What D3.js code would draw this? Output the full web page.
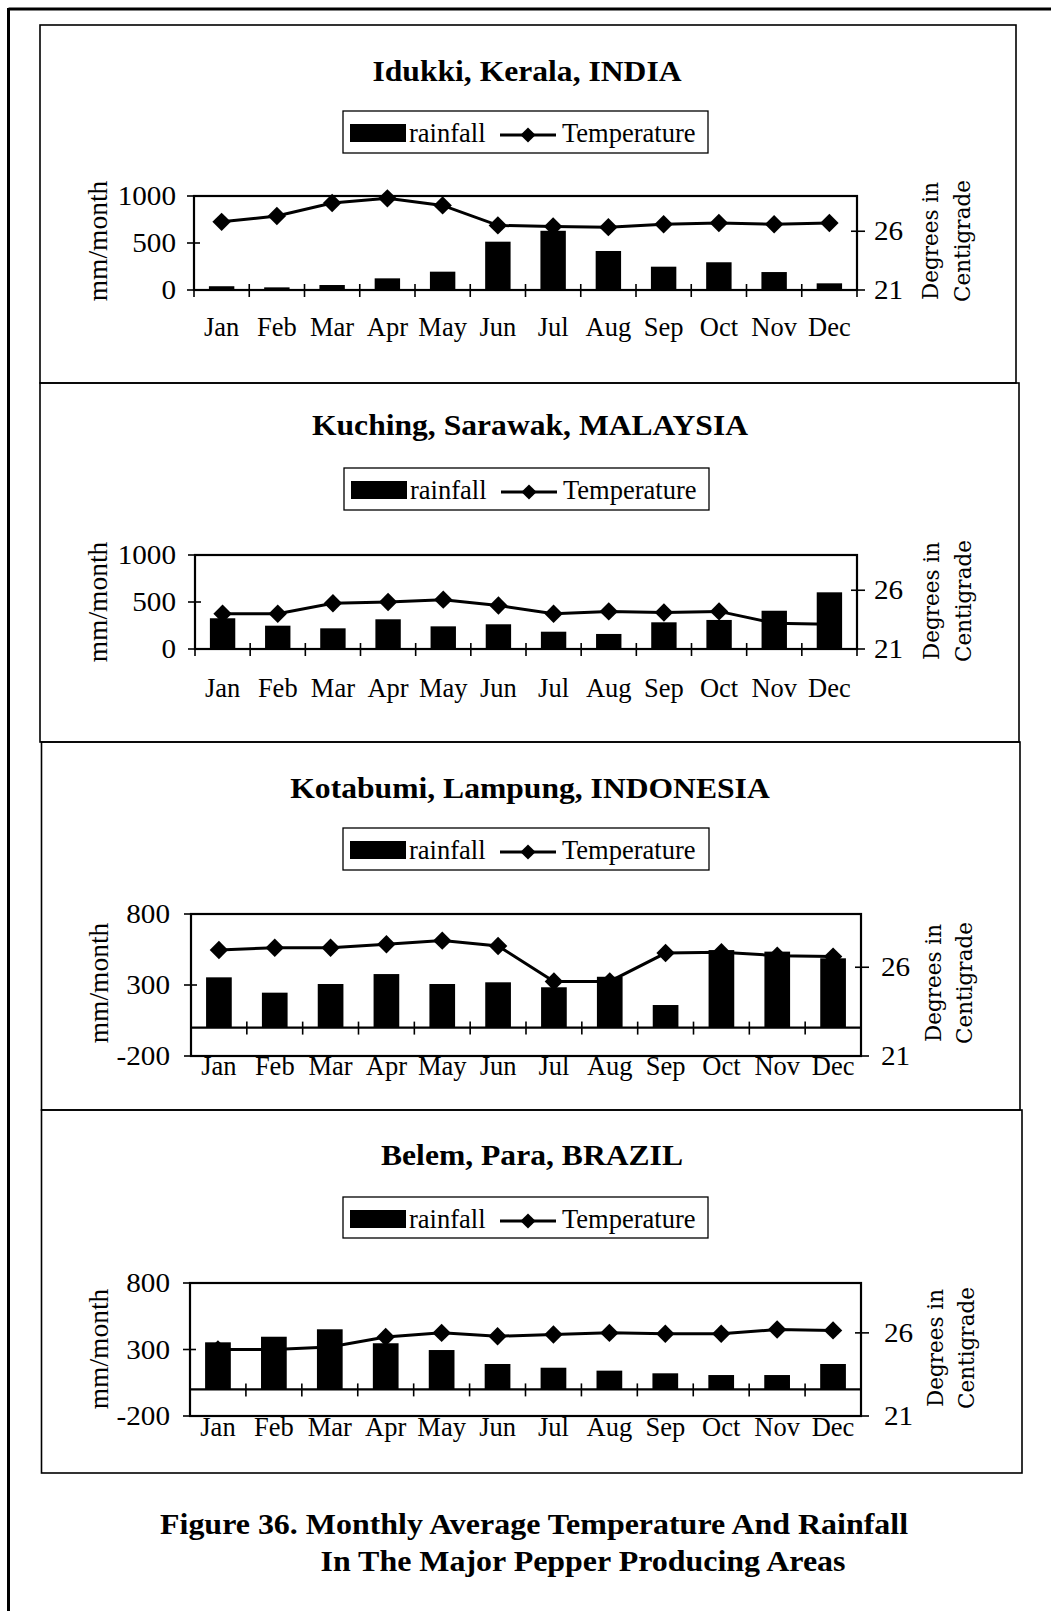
<!DOCTYPE html>
<html><head><meta charset="utf-8">
<script src="https://cdn.jsdelivr.net/npm/d3@7"></script>
<style>body{margin:0;background:#fff}svg{display:block}</style>
</head><body>
<svg id="c" width="1051" height="1611"></svg>
<script>
// ---------------- data ----------------
const months = ["Jan","Feb","Mar","Apr","May","Jun","Jul","Aug","Sep","Oct","Nov","Dec"];
const titles = ["Idukki, Kerala, INDIA","Kuching, Sarawak, MALAYSIA","Kotabumi, Lampung, INDONESIA","Belem, Para, BRAZIL"];
const rainIdukki   = [40, 28, 53, 124, 195, 514, 630, 415, 248, 295, 191, 71];
const tempIdukki   = [26.8, 27.3, 28.4, 28.8, 28.2, 26.5, 26.4, 26.35, 26.6, 26.7, 26.6, 26.7];
const rainKuching  = [327, 248, 220, 316, 241, 263, 184, 160, 284, 309, 407, 603];
const tempKuching  = [24.0, 24.0, 24.9, 25.0, 25.2, 24.7, 24.0, 24.2, 24.1, 24.2, 23.2, 23.1];
const rainKotabumi = [354, 246, 307, 377, 307, 319, 284, 358, 159, 546, 535, 488];
const tempKotabumi = [26.97, 27.1, 27.1, 27.3, 27.5, 27.2, 25.2, 25.2, 26.8, 26.85, 26.65, 26.6];
const rainBelem    = [354, 396, 452, 347, 296, 191, 163, 141, 121, 108, 108, 191];
const tempBelem    = [25.0, 25.0, 25.15, 25.75, 26.0, 25.8, 25.9, 26.0, 25.95, 25.95, 26.2, 26.15];
const rainDomainA = [0, 1000], rainTicksA = [0, 500, 1000];
const rainDomainB = [-200, 800], rainTicksB = [-200, 300, 800];
const tempDomain = [21, 29], tempTicks = [21, 26];
const legendLabels = ["rainfall", "Temperature"];
const leftAxisTitle = "mm/month";
const rightAxisTitle = ["Degrees in", "Centigrade"];
const captionLines = ["Figure 36. Monthly Average Temperature And Rainfall", "In The Major Pepper Producing Areas"];

// ---------------- layout ----------------
const panels = [
  {title: titles[0], rain: rainIdukki, temp: tempIdukki, rd: rainDomainA, rt: rainTicksA,
   box: [40, 25, 1016, 383], plot: [194, 196, 857, 290], tx: 527, ty: 81, leg: [343, 111, 708, 153],
   monthY: 336, lEnd: 176, rX: 874, lt: [97, 241], rt2: [930, 962, 241]},
  {title: titles[1], rain: rainKuching, temp: tempKuching, rd: rainDomainA, rt: rainTicksA,
   box: [40, 383, 1019, 742], plot: [195, 555, 857, 649], tx: 530, ty: 435, leg: [344, 468, 709, 510],
   monthY: 697, lEnd: 176, rX: 874, lt: [97, 602], rt2: [931, 963, 601]},
  {title: titles[2], rain: rainKotabumi, temp: tempKotabumi, rd: rainDomainB, rt: rainTicksB,
   box: [41.5, 742, 1020, 1110], plot: [191, 914, 861, 1056], tx: 530, ty: 798, leg: [343, 828, 709, 870],
   monthY: 1075, lEnd: 170, rX: 881, lt: [98, 983], rt2: [933, 964, 983]},
  {title: titles[3], rain: rainBelem, temp: tempBelem, rd: rainDomainB, rt: rainTicksB,
   box: [41.5, 1110, 1022, 1473], plot: [190, 1283, 861, 1416], tx: 532, ty: 1165, leg: [343, 1197, 708, 1238],
   monthY: 1436, lEnd: 170, rX: 884, lt: [98, 1349], rt2: [935, 966, 1348]}
];

const SERIF = "'Liberation Serif','Times New Roman',serif";
const svg = d3.select("#c");
svg.append("rect").attr("width",1051).attr("height",1611).attr("fill","#fff");

function stext(parent, x, y, str, o) {
  o = o || {};
  const g = parent.append("g").attr("transform", `translate(${x},${y}) rotate(${o.rot||0}) scale(${o.sx||1},1)`);
  const t = g.append("text").text(str)
    .attr("font-family", o.family || SERIF)
    .attr("font-size", o.size || 26)
    .attr("font-weight", o.weight || "normal")
    .attr("text-anchor", o.anchor || "middle")
    .attr("fill", "#000");
  if (o.baseline) t.attr("dominant-baseline", o.baseline);
  return t;
}

// page frame
svg.append("line").attr("x1",8.5).attr("x2",1051).attr("y1",9).attr("y2",9).attr("stroke","#000").attr("stroke-width",3);
svg.append("line").attr("x1",8.5).attr("x2",8.5).attr("y1",8).attr("y2",1611).attr("stroke","#000").attr("stroke-width",3);

const diamond = d3.symbol().type(d3.symbolSquare).size(170);
const diamondSmall = d3.symbol().type(d3.symbolSquare).size(115);

panels.forEach(p => {
  const g = svg.append("g");
  const [bx0, by0, bx1, by1] = p.box;
  g.append("rect").attr("x",bx0).attr("y",by0).attr("width",bx1-bx0).attr("height",by1-by0)
    .attr("fill","none").attr("stroke","#000").attr("stroke-width",1.6);

  // title
  stext(g, p.tx, p.ty, p.title, {size: 29, weight: "bold", sx: 1.09});

  // legend
  const [lx0, ly0, lx1, ly1] = p.leg;
  g.append("rect").attr("x",lx0).attr("y",ly0).attr("width",lx1-lx0).attr("height",ly1-ly0)
    .attr("fill","#fff").attr("stroke","#000").attr("stroke-width",1.3);
  g.append("rect").attr("x",lx0+7).attr("y",ly0+13).attr("width",56).attr("height",18).attr("fill","#000");
  stext(g, lx0+66, ly0+31, legendLabels[0], {size: 26.5, anchor: "start"});
  g.append("line").attr("x1",lx0+157).attr("x2",lx0+213).attr("y1",ly0+24).attr("y2",ly0+24)
    .attr("stroke","#000").attr("stroke-width",2.8);
  g.append("path").attr("d",diamondSmall()).attr("transform",`translate(${lx0+185},${ly0+24}) rotate(45)`).attr("fill","#000");
  stext(g, lx0+219, ly0+31, legendLabels[1], {size: 26.5, anchor: "start"});

  // scales
  const [px0, py0, px1, py1] = p.plot;
  const x = d3.scaleBand().domain(months).range([px0, px1]).paddingInner(0).paddingOuter(0);
  const yL = d3.scaleLinear().domain(p.rd).range([py1, py0]);
  const yR = d3.scaleLinear().domain(tempDomain).range([py1, py0]);
  const bw = x.bandwidth(), barW = bw * 0.46;

  // bars
  g.selectAll(".bar").data(p.rain).enter().append("rect")
    .attr("x", (d,i) => x(months[i]) + (bw - barW)/2)
    .attr("y", d => yL(Math.max(0, d)))
    .attr("width", barW)
    .attr("height", d => Math.abs(yL(d) - yL(0)))
    .attr("fill", "#000");

  // frame
  g.append("rect").attr("x",px0).attr("y",py0).attr("width",px1-px0).attr("height",py1-py0)
    .attr("fill","none").attr("stroke","#000").attr("stroke-width",2.2);
  // zero line (category axis)
  const y0 = yL(0);
  g.append("line").attr("x1",px0).attr("x2",px1).attr("y1",y0).attr("y2",y0).attr("stroke","#000").attr("stroke-width",2.2);
  // category ticks at band boundaries
  const bounds = months.map(m => x(m)).concat([x.range()[1]]);
  g.selectAll(".xt").data(bounds).enter().append("line")
    .attr("x1", d => d).attr("x2", d => d).attr("y1", y0-6).attr("y2", y0+7)
    .attr("stroke","#000").attr("stroke-width",1.6);
  // month labels
  months.forEach(m => stext(g, x(m) + bw/2, p.monthY, m, {size: 26.5}));

  // left axis
  const la = g.append("g").attr("transform",`translate(${px0},0)`)
    .call(d3.axisLeft(yL).tickValues(p.rt).tickSize(0).tickFormat(""));
  la.select(".domain").remove();
  g.selectAll(".lt").data(p.rt).enter().append("line")
    .attr("x1", px0-7).attr("x2", px0+6).attr("y1", d => yL(d)).attr("y2", d => yL(d))
    .attr("stroke","#000").attr("stroke-width",1.6);
  p.rt.forEach(v => stext(g, p.lEnd, yL(v), String(v), {size: 27, anchor: "end", baseline: "central", sx: 1.08}));

  // right axis
  g.selectAll(".rtk").data(tempTicks).enter().append("line")
    .attr("x1", px1-6).attr("x2", px1+8).attr("y1", d => yR(d)).attr("y2", d => yR(d))
    .attr("stroke","#000").attr("stroke-width",1.6);
  tempTicks.forEach(v => stext(g, p.rX, yR(v), String(v), {size: 27, anchor: "start", baseline: "central", sx: 1.08}));

  // axis titles
  stext(g, p.lt[0], p.lt[1], leftAxisTitle, {size: 27.5, rot: -90, baseline: "central"});
  stext(g, p.rt2[0], p.rt2[2], rightAxisTitle[0], {size: 21.5, rot: -90, baseline: "central", family: "'DejaVu Serif',serif"});
  stext(g, p.rt2[1], p.rt2[2], rightAxisTitle[1], {size: 21.5, rot: -90, baseline: "central", family: "'DejaVu Serif',serif"});

  // temperature line
  const line = d3.line().x((d,i) => x(months[i]) + bw/2).y(d => yR(d));
  g.append("path").datum(p.temp).attr("d", line).attr("fill","none").attr("stroke","#000").attr("stroke-width",3);
  g.selectAll(".dm").data(p.temp).enter().append("path")
    .attr("d", diamond())
    .attr("transform", (d,i) => `translate(${x(months[i]) + bw/2},${yR(d)}) rotate(45)`)
    .attr("fill","#000");
});

// caption
stext(svg, 534, 1534, captionLines[0], {size: 30, weight: "bold", sx: 1.065});
stext(svg, 583, 1571, captionLines[1], {size: 30, weight: "bold", sx: 1.065});
</script>
</body></html>
